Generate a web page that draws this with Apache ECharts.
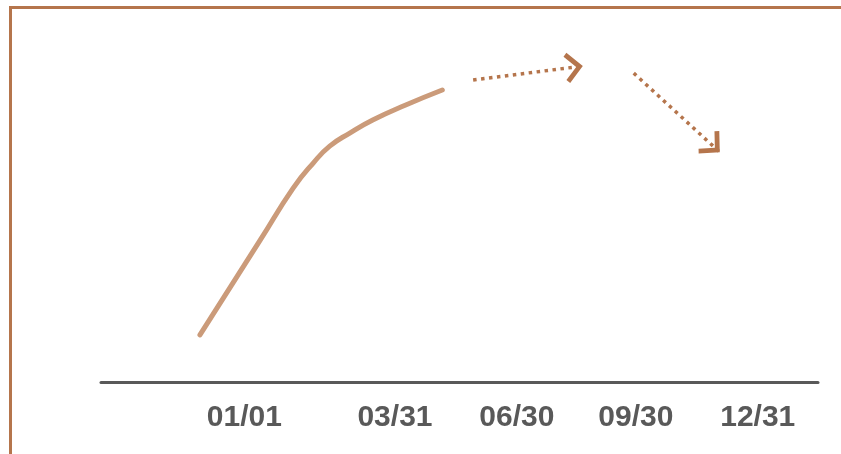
<!DOCTYPE html>
<html>
<head>
<meta charset="utf-8">
<script src="https://cdn.jsdelivr.net/npm/echarts@6/dist/echarts.min.js"></script>
<style>
  html, body { margin: 0; padding: 0; background: #fff; }
  #main { width: 841px; height: 454px; }
</style>
</head>
<body>
<div id="main"></div>
<script>
// x positions of the date labels on a 0-100 axis, and the labels themselves
var tickPos = [20, 41, 58, 74.6, 91.6];
var tickLabels = ['01/01', '03/31', '06/30', '09/30', '12/31'];

// solid trend curve (x, y)
var trendX = [13.8, 22.2, 26.8, 29.6, 31.9, 34.7, 37.9, 42.5, 47.6];
var trendY = [12.7, 38.0, 51.9, 58.6, 63.1, 66.6, 70.1, 74.1, 78.1];

// dotted arrows: start and tip (x, y)
var arrowStart = [[51.9, 80.8], [74.3, 82.6]];
var arrowEnd = [[67.2, 84.5], [86.3, 61.5]];

var brown = '#B5754C';
var grey = '#595959';

// open chevron, tip at the centre of a square box so it sits on the line end
var chevron = 'path://M-2,-13.5L-1.99,-13.5L-2,-13.49Z M24,13.5L23.99,13.5L24,13.49Z ' +
  'M11,0L22,11L19.5,13.5L11,5L2.5,13.5L0,11Z';

var myChart = echarts.init(document.getElementById('main'));

var option = {
  animation: false,
  grid: { left: 101, right: 23, top: 8, bottom: 71.5 },
  xAxis: {
    type: 'value',
    min: 0,
    max: 100,
    splitLine: { show: false },
    axisTick: { show: false },
    axisLine: { lineStyle: { color: grey, width: 3 } },
    axisLabel: {
      customValues: tickPos,
      margin: 20,
      color: grey,
      fontSize: 30,
      fontWeight: 'bold',
      fontFamily: 'Liberation Sans',
      formatter: function (v) {
        for (var i = 0; i < tickPos.length; i++) {
          if (Math.abs(tickPos[i] - v) < 0.01) return tickLabels[i];
        }
        return '';
      }
    }
  },
  yAxis: { type: 'value', min: 0, max: 100, show: false },
  graphic: [{
    type: 'polyline',
    shape: { points: [[10.5, 454], [10.5, 7.5], [841, 7.5]] },
    style: { stroke: brown, lineWidth: 3, fill: null }
  }],
  series: [
    {
      type: 'line',
      smooth: 0.5,
      symbol: 'none',
      lineStyle: { color: '#CB9B7A', width: 5, cap: 'round', join: 'round' },
      data: trendX.map(function (x, i) { return [x, trendY[i]]; })
    },
    {
      type: 'lines',
      coordinateSystem: 'cartesian2d',
      symbol: ['none', chevron],
      symbolSize: 36,
      lineStyle: { color: brown, width: 3.5, type: [3.5, 4.5], opacity: 1 },
      itemStyle: { color: brown },
      data: arrowStart.map(function (s, i) { return { coords: [s, arrowEnd[i]] }; })
    }
  ]
};

myChart.setOption(option);
</script>
</body>
</html>
